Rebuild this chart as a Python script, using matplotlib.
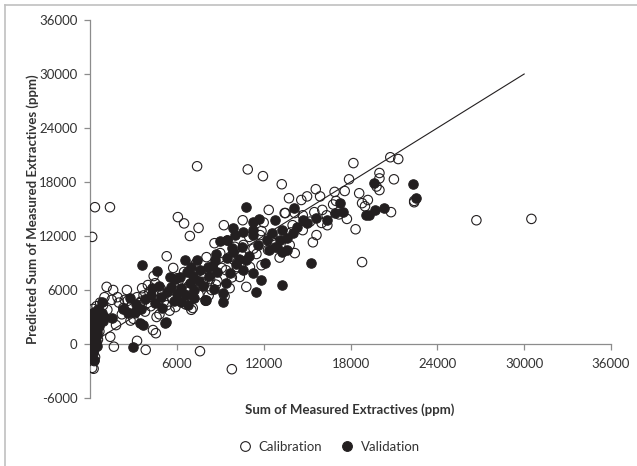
import numpy as np
import matplotlib
matplotlib.use('Agg')
import matplotlib.pyplot as plt
from matplotlib.lines import Line2D

plt.rcParams['font.family'] = ['Lato', 'DejaVu Sans']
plt.rcParams['axes.unicode_minus'] = False

# calibration set (open circles)
cal_x = [150, 250, 350, 100, 200, 300, 150, 400, 100, 250, 500, 150, 350, 600, 200, 450, 700, 300, 550, 650,
         340, 1380, 150,
         1150, 1600, 1400, 1650, 1800, 1200, 900, 1500, 2000, 2300, 2550, 3250, 2200, 2800, 3450, 4000, 4500,
         3600, 4350, 4550, 3250, 3850, 2900, 3300, 3800, 4200, 4700, 5000, 5300, 5700, 4100, 3700, 5300, 5750,
         4400, 6070, 6500, 6900, 7500, 7400, 7600, 9800,
         6200, 6600, 7000, 7100, 7500, 8000, 8400, 6800, 7200, 7700, 8050, 9100, 9650, 9000, 9650, 8800, 8200,
         6500, 6000, 5800, 9300, 9800, 10150, 10350, 10800, 11050, 11850, 11000, 11750, 12300, 9250, 10550,
         10900, 11950, 13250, 13750, 12350, 13450, 11850,
         18200, 20000, 17900, 15600, 15000, 15900, 16900, 17600, 18600, 19200, 18800, 17750, 18350, 13500,
         14150, 14700, 15500, 16050, 16350, 16000, 16400, 14700, 15650, 15400, 13800, 14150, 18800, 20750,
         21300, 20000, 21000, 20000, 22400, 20800, 26700, 30500, 12800, 13100, 11500, 10600, 12000, 14000,
         10000, 8600, 9500, 4800, 5500, 6300, 7900, 8700, 2600, 1900, 3000, 5100, 6100, 7300, 8300, 9900,
         10500, 11300, 12600, 13900, 15200, 16800, 17200, 19000, 14600, 17000, 19800, 22400,
         1000, 2400, 3500, 4900, 6700, 7800, 9400, 3100, 4600, 5900]
cal_y = [-2650, -2750, -1450, -900, -300, 200, 700, 1000, 1500, 1900, 2300, 2700, 3100, 3500, 3900, 4200, 4600, -1900, 500, 1400,
         15200, 15200, 11900,
         6350, 6000, 800, -300, 2100, 3800, 4300, 4900, 4600, 4000, 6000, 5200, 3300, 2600, 4550, 6550, 6750,
         6200, 1550, 1200, 350, -650, 4400, 3800, 3600, 4200, 4900, 5600, 4300, 5000, 5800, 5400, 9750, 8450,
         7550, 14100, 13400, 12000, 12900, 19750, -800, -2800,
         5200, 4400, 3800, 4000, 5500, 4800, 6000, 6400, 7000, 7600, 9650, 8450, 9650, 10100, 6200, 7000, 5400,
         8000, 7300, 6400, 5300, 7400, 8550, 7450, 6350, 8550, 8750, 11900, 12100, 10450, 13200, 13750,
         19400, 18650, 17750, 16200, 14900, 14550, 12550,
         20100, 19000, 18300, 17200, 16400, 16400, 16900, 17000, 16750, 16000, 15650, 13900, 12750, 14550,
         14550, 14300, 14650, 14900, 14300, 13450, 13200, 12650, 12100, 11300, 11000, 10100, 9100, 20750,
         20550, 18400, 18300, 17100, 15750, 14650, 13750, 13900, 11200, 9600, 10000, 11000, 13500, 13200,
         10800, 11200, 11500, 3300, 3700, 5600, 6800, 6600, 4800, 5200, 2800, 4700, 6900, 8900, 7200, 9400,
         9800, 10600, 12000, 12400, 13600, 15500, 14400, 15300, 16000, 15900, 17500, 15900,
         5200, 4900, 4700, 6100, 5800, 6900, 8200, 3400, 3000, 4100]

# validation set (filled circles)
val_x = [100, 200, 300, 150, 400, 250, 100, 500, 350, 200, 600, 150, 400, 700, 300, 550, 800, 1000, 250, 450,
         650, 900, 100, 300, 500,
         850, 2750, 3100, 2600, 3450, 5200, 3000, 3600, 4600, 5500, 3650, 5250,
         3200, 3800, 4200, 4500, 4900, 5300, 5600, 6000, 4800, 5800, 4300, 3500, 5000, 6300, 6600, 6900, 7200,
         7500, 6200, 7800, 8200, 6550, 7400, 8650, 8150, 7000, 6700, 7600, 8800, 6300, 7200, 8000, 7950, 9200,
         9200, 8600, 9400, 6800,
         10550, 11250, 11850, 13250, 11450, 15300,
         9450, 10000, 11250, 12550, 13100, 10500, 9850, 9450, 12750, 13300, 10800, 11250, 11650, 12800, 14100,
         9900, 10550, 11250, 13300, 14300,
         17250, 17450, 19100, 19700, 19600, 14700, 15650, 16400, 12900, 12400, 13600, 13600, 14000, 12200,
         11600, 10300, 9800, 11000, 19300, 20300, 22300, 22500, 9700, 10100, 8700, 10800, 2300, 1500, 5900,
         7100, 8400, 9000, 15000, 16900, 12100]
val_y = [-1500, -1000, -500, 0, 300, 700, 1100, 1300, 1700, 2100, 2400, 2800, 3000, 3300, 3600, 3900, 3500, 3000, -1800, 1000,
         2000, 2600, 3300, 2400, -200,
         4650, 5100, 3550, 3450, 2350, 2350, -350, 8800, 8100, 7450, 2100, 2450,
         4500, 5000, 5500, 4600, 5200, 5800, 6300, 5600, 6500, 4800, 6200, 3900, 4000, 6200, 5400, 6800, 6000,
         7000, 7500, 6500, 7600, 9300, 9300, 9300, 8550, 8600, 8000, 8200, 8000, 4700, 5100, 4900, 4900, 5650,
         4650, 6100, 6800, 4300,
         8200, 7900, 7100, 6550, 5750, 9000,
         11550, 12100, 12100, 12300, 11550, 10750, 10200, 9550, 10750, 10200, 15200, 13550, 13900, 13750, 15100,
         12850, 12450, 12650, 12650, 13000,
         15650, 14650, 14300, 14900, 17900, 13750, 14000, 13750, 10750, 10450, 10450, 11800, 12300, 11600,
         11000, 9400, 10700, 9800, 14300, 15100, 17750, 16200, 7900, 8900, 10000, 9300, 3900, 2900, 7200,
         7600, 8700, 11400, 13500, 14500, 9000]

fit_x = [0, 30000]
fit_y = [0, 30000]

xticks = [6000, 12000, 18000, 24000, 30000, 36000]
yticks = [-6000, 0, 6000, 12000, 18000, 24000, 30000, 36000]

fig = plt.figure(figsize=(6.37, 4.66), dpi=100)
ax = fig.add_axes([90 / 637, 1 - 398 / 466, 521 / 637, 378 / 466])

ax.scatter(cal_x, cal_y, s=46, facecolors='none', edgecolors='#231f20', linewidths=0.8, zorder=3)
ax.scatter(val_x, val_y, s=46, facecolors='#231f20', edgecolors='#231f20', linewidths=0.8, zorder=4)
ax.plot(fit_x, fit_y, color='#231f20', lw=0.8, zorder=5)

ax.set_xlim(0, 36000)
ax.set_ylim(-6000, 36000)
ax.set_xticks(xticks)
ax.set_yticks(yticks)
ax.spines['bottom'].set_position(('data', 0))
ax.spines['top'].set_visible(False)
ax.spines['right'].set_visible(False)
for s in ['left', 'bottom']:
    ax.spines[s].set_color('#8c8c8c')
    ax.spines[s].set_linewidth(0.9)
ax.tick_params(axis='both', colors='#8c8c8c', labelcolor='#333333', labelsize=9.5, length=4, width=0.9)
ax.tick_params(axis='x', pad=6)
ax.tick_params(axis='y', pad=5)

fig.text(350 / 637, 1 - 410 / 466, 'Sum of Measured Extractives (ppm)', ha='center', va='center',
         fontsize=9.5, fontweight='bold', color='#333333')
fig.text(33 / 637, 1 - 209 / 466, 'Predicted Sum of Measured Extractives (ppm)', ha='center', va='center',
         rotation=90, fontsize=9.5, fontweight='bold', color='#333333')

handles = [Line2D([], [], ls='none', marker='o', ms=7, mfc='none', mec='#231f20', mew=0.8),
           Line2D([], [], ls='none', marker='o', ms=7, mfc='#231f20', mec='#231f20', mew=0.8)]
fig.legend(handles, ['Calibration', 'Validation'], loc='center', bbox_to_anchor=(326 / 637, 1 - 447 / 466),
           ncol=2, frameon=False, fontsize=9.5, handletextpad=0.0, columnspacing=0.9, labelcolor='#333333')

# light frame around the chart area
fig.add_artist(Line2D([5 / 637, 5 / 637], [0, 1 - 5 / 466], color='#c0c0c0', lw=1.2))
fig.add_artist(Line2D([5 / 637, 1], [1 - 5 / 466, 1 - 5 / 466], color='#c0c0c0', lw=1.2))

fig.savefig('out.png', dpi=100)
